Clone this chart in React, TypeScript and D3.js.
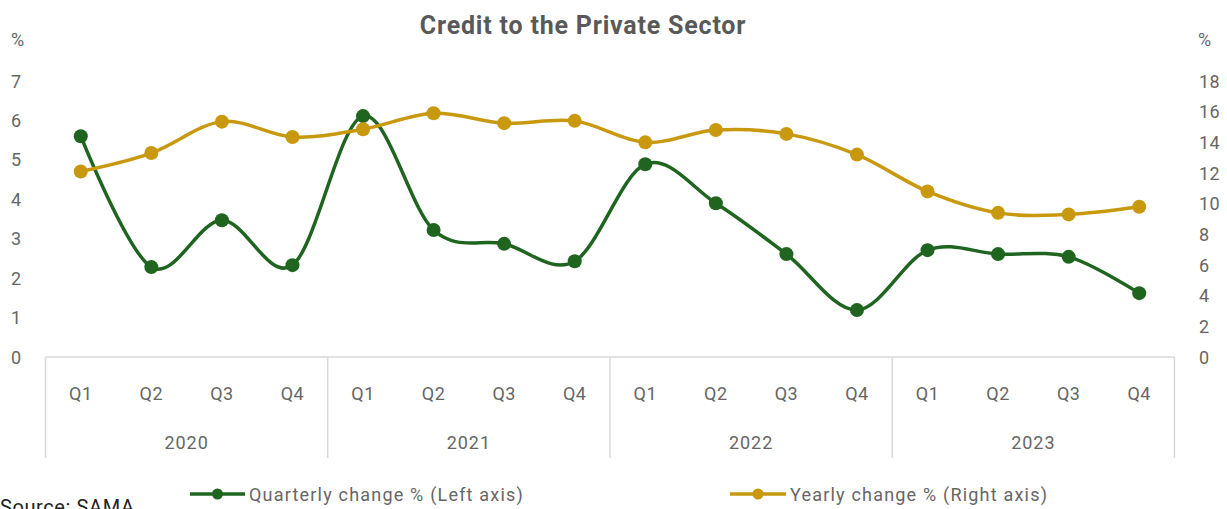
import React from "react";
import * as d3 from "d3";

const years = ["2020", "2021", "2022", "2023"];
const quarters = ["Q1", "Q2", "Q3", "Q4"];
const quarterly = [5.6, 2.28, 3.47, 2.33, 6.11, 3.22, 2.87, 2.43, 4.89, 3.9, 2.61, 1.19, 2.71, 2.61, 2.54, 1.62];
const yearly = [12.1, 13.3, 15.35, 14.35, 14.85, 15.9, 15.25, 15.4, 14.0, 14.8, 14.55, 13.2, 10.8, 9.4, 9.3, 9.8];
const leftTicks = [0, 1, 2, 3, 4, 5, 6, 7];
const rightTicks = [0, 2, 4, 6, 8, 10, 12, 14, 16, 18];

const W = 1227, H = 509;
const GREEN = "#1f6520";
const GOLD = "#c8990f";
const TXT = "#666666";
const FONT = "Roboto, 'Noto Sans', sans-serif";

export default function App() {
  const cats = years.flatMap((y) => quarters.map((q) => `${y}-${q}`));
  const x = d3.scaleBand().domain(cats).range([45.5, 1174.5]);
  const yL = d3.scaleLinear().domain([0, 7]).range([357, 81]);
  const yR = d3.scaleLinear().domain([0, 18]).range([357, 81]);
  const cx = (i: number) => (x(cats[i]) as number) + x.bandwidth() / 2;
  const lineL = d3.line<number>().x((_, i) => cx(i)).y((d) => yL(d)).curve(d3.curveCardinal);
  const lineR = d3.line<number>().x((_, i) => cx(i)).y((d) => yR(d)).curve(d3.curveCardinal);
  const yearW = x.bandwidth() * 4;
  const x0 = x.range()[0];

  return (
    <svg width={W} height={H} style={{ position: "absolute", left: 0, top: 0 }} fontFamily={FONT}>
      <rect width={W} height={H} fill="#fff" />
      <text x={583} y={34} textAnchor="middle" fontSize={25} fontWeight="bold" fill="#595959" letterSpacing={0.8}>
        Credit to the Private Sector
      </text>
      <text x={11} y={46} fontSize={18} fill={TXT}>%</text>
      <text x={1198} y={46} fontSize={18} fill={TXT}>%</text>
      {leftTicks.map((t) => (
        <text key={"l" + t} x={11} y={yL(t) + 6.5} fontSize={18} fill={TXT}>{t}</text>
      ))}
      {rightTicks.map((t) => (
        <text key={"r" + t} x={1199} y={yR(t) + 6.5} fontSize={18} fill={TXT} letterSpacing={0.5}>{t}</text>
      ))}
      {/* category axis */}
      <line x1={x0} x2={x.range()[1]} y1={357} y2={357} stroke="#d9d9d9" strokeWidth={1.5} />
      {d3.range(years.length + 1).map((i) => (
        <line key={"s" + i} x1={x0 + i * yearW} x2={x0 + i * yearW} y1={357} y2={458} stroke="#d9d9d9" strokeWidth={1.5} />
      ))}
      {cats.map((c, i) => (
        <text key={c} x={cx(i)} y={400} textAnchor="middle" fontSize={18} fill={TXT} letterSpacing={0.5}>
          {quarters[i % 4]}
        </text>
      ))}
      {years.map((y, i) => (
        <text key={y} x={x0 + (i + 0.5) * yearW} y={449} textAnchor="middle" fontSize={18} fill={TXT} letterSpacing={1}>
          {y}
        </text>
      ))}
      {/* lines */}
      <path d={lineL(quarterly) as string} fill="none" stroke={GREEN} strokeWidth={3.5} />
      {quarterly.map((d, i) => (
        <circle key={"gq" + i} cx={cx(i)} cy={yL(d)} r={7} fill={GREEN} />
      ))}
      <path d={lineR(yearly) as string} fill="none" stroke={GOLD} strokeWidth={3.5} />
      {yearly.map((d, i) => (
        <circle key={"gy" + i} cx={cx(i)} cy={yR(d)} r={7} fill={GOLD} />
      ))}
      {/* legend */}
      <line x1={190} x2={245} y1={494} y2={494} stroke={GREEN} strokeWidth={3.5} />
      <circle cx={217.5} cy={494} r={5.5} fill={GREEN} />
      <text x={249} y={500.5} fontSize={18} fill={TXT} letterSpacing={1.2}>Quarterly change % (Left axis)</text>
      <line x1={730} x2={786} y1={494} y2={494} stroke={GOLD} strokeWidth={3.5} />
      <circle cx={758} cy={494} r={5.5} fill={GOLD} />
      <text x={790} y={500.5} fontSize={18} fill={TXT} letterSpacing={1.2}>Yearly change % (Right axis)</text>
      <text x={0} y={514} fontSize={20} fill="#222" letterSpacing={0.6}>Source: SAMA</text>
    </svg>
  );
}
